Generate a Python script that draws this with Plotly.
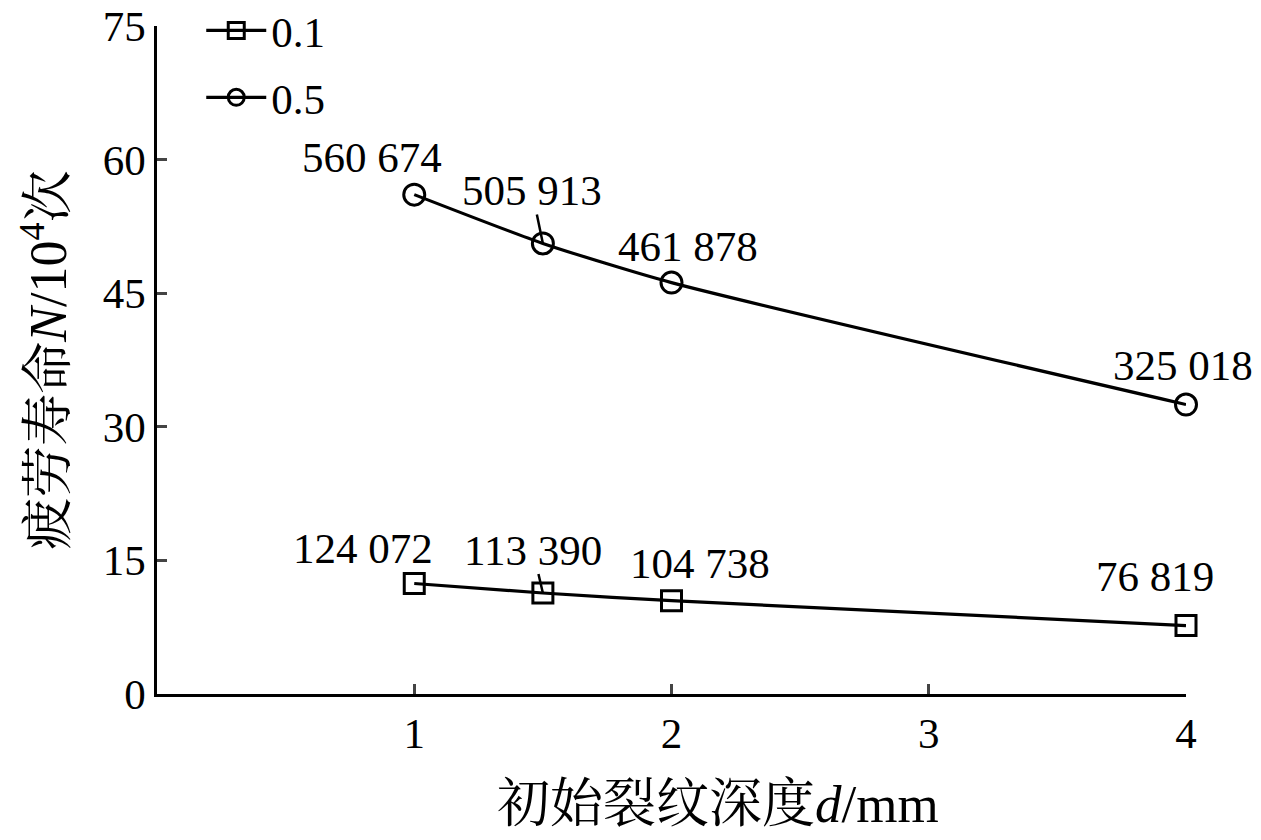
import plotly.graph_objects as go

depth = [1, 1.5, 2, 4]
life_01 = [12.4072, 11.3390, 10.4738, 7.6819]
life_05 = [56.0674, 50.5913, 46.1878, 32.5018]
labels_01 = ["124 072", "113 390", "104 738", "76 819"]
labels_05 = ["560 674", "505 913", "461 878", "325 018"]
series_names = ["0.1", "0.5"]

FONT = "'Liberation Serif', 'Times New Roman', 'Noto Serif CJK SC', 'Noto Sans CJK SC', serif"

fig = go.Figure()
fig.add_trace(go.Scatter(
    x=depth, y=life_01, name=series_names[0], mode="lines+markers", legendgroup="a",
    line=dict(color="black", width=3.2, shape="spline", smoothing=0.6),
    marker=dict(symbol="square-open", size=20, color="black", line=dict(width=3)),
    cliponaxis=False,
))
fig.add_trace(go.Scatter(
    x=depth, y=life_05, name=series_names[1], mode="lines+markers", legendgroup="b",
    line=dict(color="black", width=3.2, shape="spline", smoothing=0.6),
    marker=dict(symbol="circle-open", size=21, color="black", line=dict(width=3)),
    cliponaxis=False,
))

# label offsets (pixels) relative to the point
off_05 = [(-42, 37), None, (16, 36), (-3, 39)]
off_01 = [(-51, 35), None, (28, 37), (-31, 49)]
for i in range(4):
    for ys, labs, offs in ((life_05, labels_05, off_05), (life_01, labels_01, off_01)):
        if offs[i] is None:
            continue
        dx, dy = offs[i]
        fig.add_annotation(x=depth[i], y=ys[i], text=labs[i], showarrow=False,
                           xshift=dx, yshift=dy, font=dict(family=FONT, size=43, color="black"))

# leader-line labels
fig.add_annotation(x=depth[1], y=life_05[1], text=labels_05[1], showarrow=True,
                   ax=-11, ay=-53, arrowhead=0, arrowwidth=2.5, arrowcolor="black",
                   standoff=0, borderpad=0, font=dict(family=FONT, size=43, color="black"))
fig.add_annotation(x=depth[1], y=life_01[1], text=labels_01[1], showarrow=True,
                   ax=-10, ay=-43, arrowhead=0, arrowwidth=2.5, arrowcolor="black",
                   standoff=0, borderpad=0, font=dict(family=FONT, size=43, color="black"))

# x-axis title (placed as annotation to match its off-centre position)
fig.add_annotation(xref="paper", yref="paper", x=0.545, y=-0.165, yanchor="middle",
                   text="初始裂纹深度<i>d</i>/mm", showarrow=False,
                   font=dict(family=FONT, size=53, color="black"))

fig.update_layout(
    width=1261, height=840,
    margin=dict(l=157, r=75, t=26, b=146, autoexpand=False),
    plot_bgcolor="white", paper_bgcolor="white",
    font=dict(family=FONT, size=43, color="black"),
    showlegend=True,
    legend=dict(x=0.043, y=1.045, xanchor="left", yanchor="top",
                bgcolor="rgba(0,0,0,0)", font=dict(family=FONT, size=43),
                itemwidth=60, tracegroupgap=8),
)
fig.update_xaxes(
    range=[0, 4], tickvals=[1, 2, 3, 4], ticks="inside", ticklen=10, tickwidth=2.5,
    showline=True, linecolor="black", linewidth=2.5, showgrid=False, zeroline=False,
    tickfont=dict(family=FONT, size=43), automargin=False,
)
fig.update_yaxes(
    range=[0, 75], tickvals=[0, 15, 30, 45, 60, 75], ticks="inside", ticklen=10, tickwidth=2.5,
    showline=True, linecolor="black", linewidth=2.5, showgrid=False, zeroline=False,
    tickfont=dict(family=FONT, size=43), automargin=False,
    title=dict(text="疲劳寿命<i>N</i>/10<sup>4</sup>次", font=dict(family=FONT, size=52), standoff=20),
)
fig.write_html("out.html", config={"displayModeBar": False},
               post_script="document.body.style.margin='0px';")
